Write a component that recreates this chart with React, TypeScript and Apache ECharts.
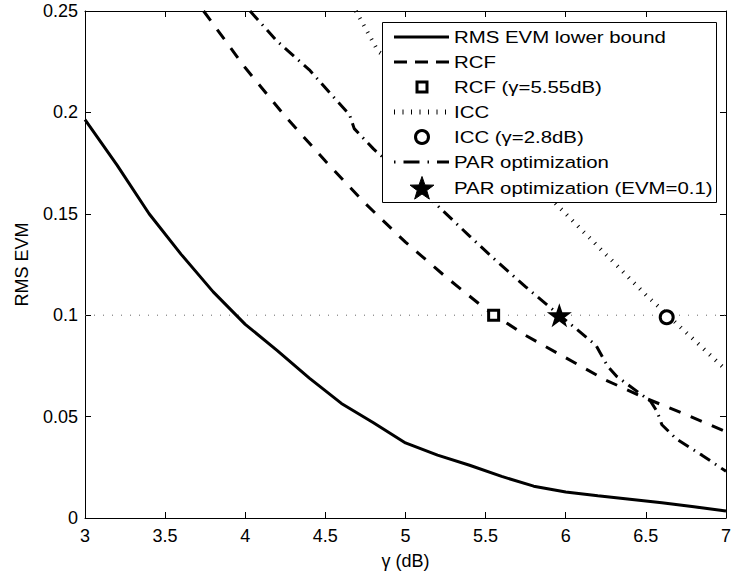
import React, { useEffect, useRef } from "react";
import * as echarts from "echarts";

const xTicks = [3, 3.5, 4, 4.5, 5, 5.5, 6, 6.5, 7];
const yTicks = [0, 0.05, 0.1, 0.15, 0.2, 0.25];

const lowerX = [3, 3.2, 3.4, 3.6, 3.8, 4, 4.2, 4.4, 4.6, 4.8, 5, 5.2, 5.4, 5.6, 5.8, 6, 6.2, 6.4, 6.6, 6.8, 7];
const lowerY = [0.1964, 0.174, 0.15, 0.13, 0.1115, 0.0955, 0.0825, 0.069, 0.0565, 0.047, 0.037, 0.031, 0.026, 0.0205, 0.0157, 0.0128, 0.011, 0.0093, 0.0075, 0.0055, 0.0034];

const rcfX = [3.74, 4.0, 4.25, 4.5, 4.75, 5.0, 5.25, 5.5, 5.75, 6.0, 6.25, 6.5, 6.75, 7.0];
const rcfY = [0.25, 0.222, 0.198, 0.176, 0.155, 0.136, 0.119, 0.103, 0.09, 0.079, 0.068, 0.059, 0.051, 0.0425];

const iccX = [4.69, 4.83, 5.0, 5.25, 5.5, 5.75, 6.0, 6.25, 6.5, 6.75, 7.0];
const iccY = [0.25, 0.23, 0.221, 0.204, 0.187, 0.17, 0.15, 0.13, 0.11, 0.0916, 0.073];

const parX = [4.03, 4.2, 4.4, 4.58, 4.65, 4.68, 4.8, 5.0, 5.2, 5.4, 5.55, 5.75, 5.96, 6.07, 6.19, 6.26, 6.32, 6.53, 6.57, 6.6, 6.69, 6.85, 7.0];
const parY = [0.25, 0.235, 0.221, 0.205, 0.199, 0.192, 0.182, 0.168, 0.154, 0.139, 0.128, 0.114, 0.1, 0.093, 0.085, 0.075, 0.0697, 0.0575, 0.0525, 0.046, 0.039, 0.031, 0.023];

const refLineX = [3, 7];
const refLineY = [0.1, 0.1];

const rcfMarker = [5.55, 0.1];
const iccMarker = [6.63, 0.099];
const parMarker = [5.96, 0.1];

const legendNames = [
  "RMS EVM lower bound",
  "RCF",
  "RCF (γ=5.55dB)",
  "ICC",
  "ICC (γ=2.8dB)",
  "PAR optimization",
  "PAR optimization (EVM=0.1)",
];

const FONT = "'Liberation Sans', Arial, Helvetica, sans-serif";
const STAR_PATH =
  "path://M50,0 L61.8,35.3 L99,35.3 L69,57.3 L80.4,92.7 L50,70.9 L19.6,92.7 L31,57.3 L1,35.3 L38.2,35.3 Z";

function zip(xs: number[], ys: number[]) {
  return xs.map((x, i) => [x, ys[i]]);
}

function starPoints(cx: number, cy: number, R: number, r: number) {
  const pts: number[][] = [];
  for (let i = 0; i < 10; i++) {
    const a = -Math.PI / 2 + (i * Math.PI) / 5;
    const rad = i % 2 === 0 ? R : r;
    pts.push([cx + rad * Math.cos(a), cy + rad * Math.sin(a)]);
  }
  return pts;
}

export default function App() {
  const ref = useRef<HTMLDivElement>(null);

  useEffect(() => {
    if (!ref.current) return;
    const chart = echarts.init(ref.current, undefined, { renderer: "svg" });

    const lx1 = 394;
    const lx2 = 449;
    const mx = 422;
    const tx = 454;
    const rows = [37, 62, 87, 112, 137, 162, 188];

    const legendGraphics: any[] = [
      {
        type: "rect",
        shape: { x: 382.5, y: 22.5, width: 334, height: 180 },
        style: { fill: "#fff", stroke: "#000", lineWidth: 1 },
        z: 100,
      },
      {
        type: "line",
        shape: { x1: lx1, y1: rows[0], x2: lx2, y2: rows[0] },
        style: { stroke: "#000", lineWidth: 3 },
        z: 101,
      },
      {
        type: "line",
        shape: { x1: lx1, y1: rows[1], x2: lx2, y2: rows[1] },
        style: { stroke: "#000", lineWidth: 3, lineDash: [13, 8] },
        z: 101,
      },
      {
        type: "rect",
        shape: { x: mx - 5, y: rows[2] - 5, width: 10, height: 10 },
        style: { fill: "#fff", stroke: "#000", lineWidth: 3 },
        z: 101,
      },
      {
        type: "line",
        shape: { x1: lx1, y1: rows[3], x2: lx2, y2: rows[3] },
        style: { stroke: "#000", lineWidth: 5, lineDash: [1, 7.5], lineCap: "butt" },
        z: 101,
      },
      {
        type: "circle",
        shape: { cx: mx, cy: rows[4], r: 6.5 },
        style: { fill: "#fff", stroke: "#000", lineWidth: 3 },
        z: 101,
      },
      {
        type: "line",
        shape: { x1: lx1, y1: rows[5], x2: lx2, y2: rows[5] },
        style: { stroke: "#000", lineWidth: 3, lineDash: [1.5, 8, 16, 8] },
        z: 101,
      },
      {
        type: "polygon",
        shape: { points: starPoints(mx, rows[6] + 1, 12.5, 5) },
        style: { fill: "#000", stroke: "#000", lineWidth: 1 },
        z: 101,
      },
    ];
    legendNames.forEach((name, i) => {
      legendGraphics.push({
        type: "text",
        x: tx,
        y: rows[i],
        scaleX: 1.2,
        style: {
          text: name,
          fontSize: 17,
          fontFamily: FONT,
          fill: "#000",
          verticalAlign: "middle",
          align: "left",
        },
        z: 102,
      });
    });

    const axisCommon = {
      type: "value" as const,
      axisLine: { show: true, onZero: false, lineStyle: { color: "#000", width: 1 } },
      axisTick: { show: true, inside: true, length: 6, lineStyle: { color: "#000", width: 1 } },
      splitLine: { show: false },
    };

    chart.setOption({
      animation: false,
      backgroundColor: "#fff",
      textStyle: { fontFamily: FONT },
      grid: { left: 85, top: 11, width: 645, height: 509, containLabel: false },
      xAxis: [
        {
          ...axisCommon,
          min: xTicks[0],
          max: xTicks[xTicks.length - 1],
          interval: 0.5,
          position: "bottom",
          axisLabel: { color: "#000", fontSize: 18, fontFamily: FONT, margin: 9 },
          name: "γ (dB)",
          nameLocation: "middle",
          nameGap: 34,
          nameTextStyle: { color: "#000", fontSize: 18, fontFamily: FONT },
        },
        {
          ...axisCommon,
          min: xTicks[0],
          max: xTicks[xTicks.length - 1],
          interval: 0.5,
          position: "top",
          axisLabel: { show: false },
        },
      ],
      yAxis: [
        {
          ...axisCommon,
          min: yTicks[0],
          max: yTicks[yTicks.length - 1],
          interval: 0.05,
          position: "left",
          axisLabel: { color: "#000", fontSize: 18, fontFamily: FONT, margin: 7 },
          name: "RMS EVM",
          nameLocation: "middle",
          nameGap: 54,
          nameTextStyle: { color: "#000", fontSize: 18, fontFamily: FONT },
        },
        {
          ...axisCommon,
          min: yTicks[0],
          max: yTicks[yTicks.length - 1],
          interval: 0.05,
          position: "right",
          axisLabel: { show: false },
        },
      ],
      graphic: legendGraphics,
      series: [
        {
          name: "EVM = 0.1",
          type: "line",
          data: zip(refLineX, refLineY),
          symbol: "none",
          lineStyle: { color: "#666", width: 1, type: [1, 8] },
          z: 1,
        },
        {
          name: legendNames[0],
          type: "line",
          data: zip(lowerX, lowerY),
          symbol: "none",
          lineStyle: { color: "#000", width: 3, type: "solid" },
        },
        {
          name: legendNames[1],
          type: "line",
          data: zip(rcfX, rcfY),
          symbol: "none",
          lineStyle: { color: "#000", width: 3, type: [12, 11], cap: "butt" },
        },
        {
          name: legendNames[3],
          type: "line",
          data: zip(iccX, iccY),
          symbol: "none",
          lineStyle: { color: "#000", width: 4, type: [1, 7], cap: "butt" },
        },
        {
          name: legendNames[5],
          type: "line",
          data: zip(parX, parY),
          symbol: "none",
          lineStyle: { color: "#000", width: 3, type: [12, 6, 1.5, 6], cap: "butt" },
        },
        {
          name: legendNames[2],
          type: "scatter",
          data: [rcfMarker],
          symbol: "rect",
          symbolSize: 10,
          itemStyle: { color: "#fff", borderColor: "#000", borderWidth: 3, opacity: 1 },
          z: 5,
        },
        {
          name: legendNames[4],
          type: "scatter",
          data: [iccMarker],
          symbol: "circle",
          symbolSize: 13,
          itemStyle: { color: "#fff", borderColor: "#000", borderWidth: 3, opacity: 1 },
          z: 5,
        },
        {
          name: legendNames[6],
          type: "scatter",
          data: [parMarker],
          symbol: STAR_PATH,
          symbolSize: [25, 24],
          itemStyle: { color: "#000", opacity: 1 },
          z: 5,
        },
      ],
    });

    return () => chart.dispose();
  }, []);

  return (
    <div
      ref={ref}
      style={{ position: "absolute", left: 0, top: 0, width: 734, height: 575, background: "#fff" }}
    />
  );
}
